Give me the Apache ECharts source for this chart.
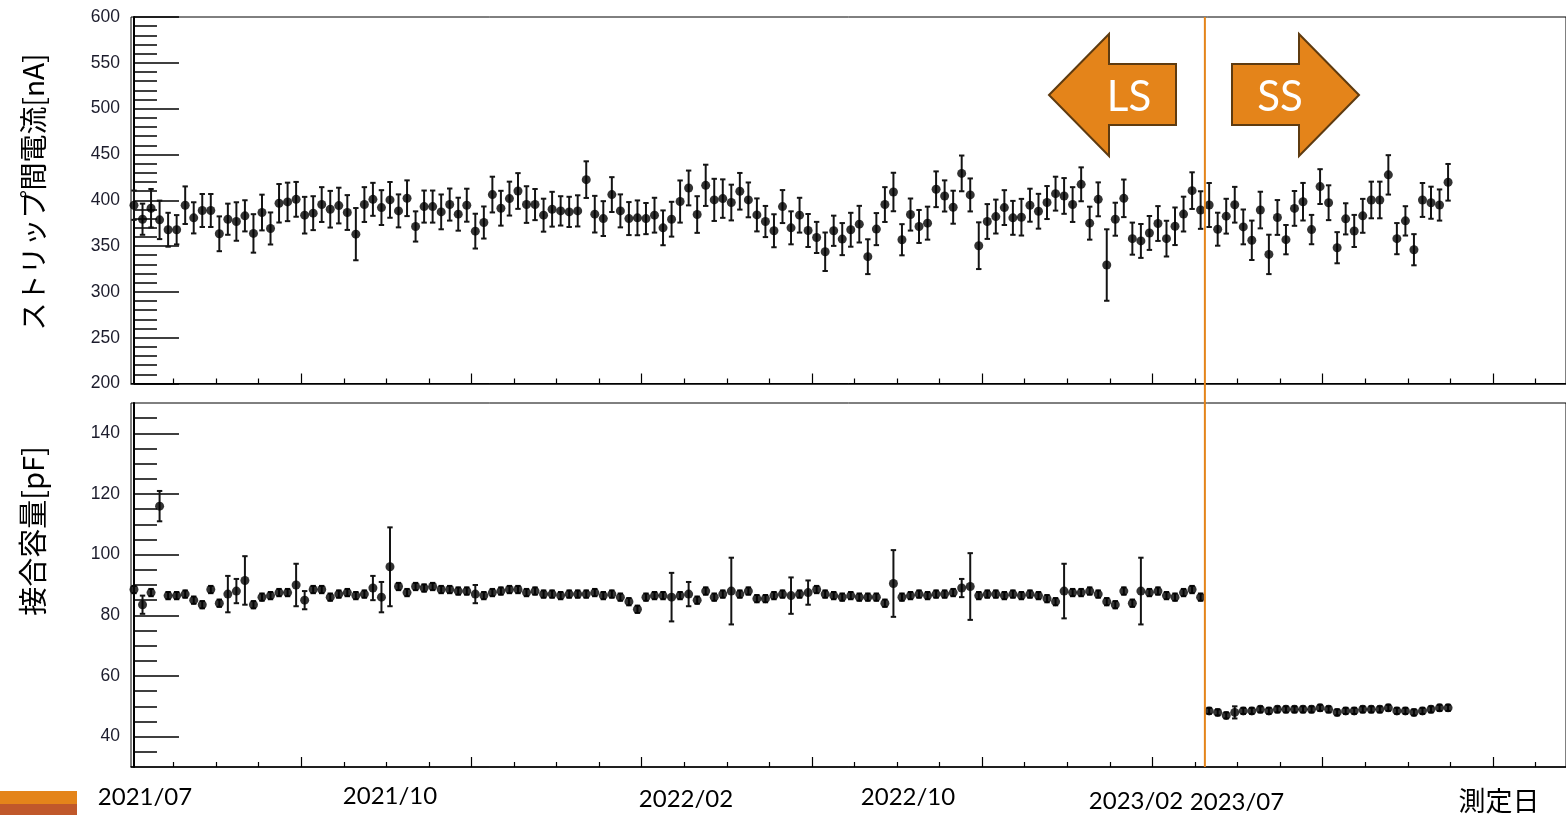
<!DOCTYPE html>
<html>
<head>
<meta charset="utf-8">
<script src="https://cdn.jsdelivr.net/npm/echarts@6/dist/echarts.min.js"></script>
<style>
html, body { margin: 0; padding: 0; background: #fff; overflow: hidden; }
#chart { width: 1566px; height: 815px; }
</style>
</head>
<body>
<div id="chart"></div>
<script>
// Inter-strip current per measurement [nA]
const currentValues = [
  394.6, 379.3, 391.3, 378.6, 367.8, 367.8, 394.6, 380.8, 388.8, 388.8,
  363.4, 379.3, 376.8, 383.0, 363.8, 386.6, 369.2, 396.7, 398.2, 401.0,
  383.7, 385.9, 395.3, 390.2, 394.2, 386.6, 363.0, 395.3, 401.0, 392.0,
  400.4, 388.4, 402.2, 371.4, 393.1, 393.1, 387.3, 395.3, 384.8, 394.6,
  366.3, 375.7, 406.2, 391.3, 401.8, 410.1, 395.3, 395.3, 383.7, 390.2,
  388.4, 387.3, 388.4, 422.5, 384.8, 380.0, 406.2, 388.4, 380.0, 380.8,
  380.0, 383.7, 369.9, 379.3, 398.6, 413.4, 384.4, 416.3, 400.4, 401.8,
  397.5, 409.8, 400.4, 384.0, 376.8, 366.7, 393.1, 369.9, 383.7, 367.0,
  359.4, 343.8, 366.7, 357.6, 367.8, 373.9, 338.4, 368.5, 395.3, 409.0,
  356.9, 384.4, 371.4, 375.0, 412.0, 404.7, 392.4, 429.3, 405.8, 350.4,
  376.8, 382.2, 392.0, 380.8, 381.5, 394.6, 388.0, 397.5, 407.2, 404.7,
  395.3, 417.4, 375.0, 401.0, 329.3, 379.3, 402.1, 358.1, 355.6, 364.3,
  374.6, 358.1, 371.6, 384.9, 410.5, 389.3, 394.8, 368.4, 382.6, 395.1,
  370.9, 356.3, 389.3, 340.9, 381.2, 357.0, 391.1, 398.4, 368.0, 414.9,
  397.3, 348.2, 379.7, 366.5, 383.0, 400.3, 400.3, 427.7, 358.1, 377.5,
  346.0, 400.3, 397.3, 394.8, 419.6
];
const currentErrors = [
  16, 17, 21, 21, 18.5, 16, 20.5, 17, 18, 18,
  19, 17, 21, 17, 21, 19.5, 17.5, 21, 21, 19,
  20, 18.5, 19, 20, 19.5, 19, 28.5, 19, 18, 19,
  19.5, 18, 19.5, 16.5, 17.5, 17.5, 19, 17.5, 18, 18,
  19, 17.5, 19.5, 19, 18.5, 19.5, 20, 17, 18, 19,
  16, 16.5, 17, 20, 20, 19, 19, 18, 18, 19,
  17, 19, 19, 19, 23, 19, 20, 22.5, 23, 21,
  19.5, 20, 19, 18, 17, 18, 18, 18, 19, 18,
  17, 21, 16.5, 17.5, 18.5, 20, 19, 17.5, 19, 21,
  17, 17.5, 18, 18, 19.5, 17, 18, 19.5, 18, 25.5,
  19, 18.5, 19, 18.5, 20, 18, 19, 18, 18.5, 19.5,
  19, 18.5, 18, 18.5, 39, 18, 20.5, 17.5, 18.5, 18.5,
  19, 19.5, 20.5, 19, 20, 20.5, 24, 18, 19, 19.5,
  19, 21.5, 20, 21.5, 19, 16, 19, 20.5, 16, 19,
  19, 17, 17, 17.5, 18.5, 20, 20, 21.5, 17, 16,
  17, 18.5, 17.5, 17, 20
];

// Junction capacitance per measurement [pF]
const capValues = [
  88.5, 83.5, 87.5, 116.0, 86.5, 86.5, 87.0, 85.0, 83.5, 88.5,
  84.0, 87.0, 88.0, 91.5, 83.5, 86.0, 86.5, 87.5, 87.5, 90.0,
  85.0, 88.5, 88.5, 86.0, 87.0, 87.5, 86.5, 87.0, 89.0, 86.0,
  96.0, 89.5, 87.5, 89.5, 89.0, 89.5, 88.5, 88.5, 88.0, 88.0,
  87.0, 86.5, 87.5, 88.0, 88.5, 88.5, 87.5, 88.0, 87.0, 87.0,
  86.5, 87.0, 87.0, 87.0, 87.5, 86.5, 87.0, 86.0, 84.5, 82.0,
  86.0, 86.5, 86.5, 86.0, 86.5, 87.0, 85.0, 88.0, 86.0, 87.0,
  88.0, 87.0, 88.0, 85.5, 85.5, 86.5, 87.0, 86.5, 87.0, 87.5,
  88.5, 87.0, 86.5, 86.0, 86.5, 86.0, 86.0, 86.0, 84.0, 90.5,
  86.0, 86.5, 87.0, 86.5, 87.0, 87.0, 87.5, 89.0, 89.5, 86.5,
  87.0, 87.0, 86.5, 87.0, 86.5, 87.0, 86.5, 85.5, 84.5, 88.0,
  87.5, 87.5, 88.0, 87.0, 84.5, 83.5, 88.0, 84.0, 88.0, 87.5,
  88.0, 86.5, 86.0, 87.5, 88.5, 86.0,
  48.5, 48.0, 47.0, 48.0, 48.5, 48.5, 49.0, 48.5, 49.0, 49.0,
  49.0, 49.0, 49.0, 49.5, 49.0, 48.0, 48.5, 48.5, 49.0, 49.0,
  49.0, 49.5, 48.5, 48.5, 48.0, 48.5, 49.0, 49.5, 49.5
];
const capErrors = [
  1.2, 3, 1.2, 5, 1.2, 1.2, 1.2, 1.2, 1.2, 1.2,
  1.2, 6, 4, 8, 1.2, 1.2, 1.2, 1.2, 1.2, 7,
  3, 1.2, 1.2, 1.2, 1.2, 1.2, 1.2, 1.2, 4, 5,
  13, 1.2, 1.2, 1.2, 1.2, 1.2, 1.2, 1.2, 1.2, 1.2,
  3, 1.2, 1.2, 1.2, 1.2, 1.2, 1.2, 1.2, 1.2, 1.2,
  1.2, 1.2, 1.2, 1.2, 1.2, 1.2, 1.2, 1.2, 1.2, 1.2,
  1.2, 1.2, 1.2, 8, 1.2, 4, 1.2, 1.2, 1.2, 1.2,
  11, 1.2, 1.2, 1.2, 1.2, 1.2, 1.2, 6, 1.2, 4,
  1.2, 1.2, 1.2, 1.2, 1.2, 1.2, 1.2, 1.2, 1.2, 11,
  1.2, 1.2, 1.2, 1.2, 1.2, 1.2, 1.2, 3, 11, 1.2,
  1.2, 1.2, 1.2, 1.2, 1.2, 1.2, 1.2, 1.2, 1.2, 9,
  1.2, 1.2, 1.2, 1.2, 1.2, 1.2, 1.2, 1.2, 11, 1.2,
  1.2, 1.2, 1.2, 1.2, 1.2, 1.2,
  1, 1, 1, 2, 1, 1, 1, 1, 1, 1,
  1, 1, 1, 1, 1, 1, 1, 1, 1, 1,
  1, 1, 1, 1, 1, 1, 1, 1, 1
];

// LS sensors were measured first, SS sensors after this many entries
const lsCount = 126;

const dateLabels = ['2021/07', '2021/10', '2022/02', '2022/10', '2023/02', '2023/07'];
const xTitle = '測定日';
const currentTitle = 'ストリップ間電流[nA]';
const capTitle = '接合容量[pF]';
const sensorLabels = ['LS', 'SS'];

const currentAxis = { min: 200, max: 600, step: 50 };
const capAxis = { min: 30, max: 150, major: [40, 60, 80, 100, 120, 140], minorStep: 5 };

// ---------- layout ----------
const FRAME_L = 131;
const FRAME_R = 1568;          // frame runs off the right edge
const TOP_T = 17, TOP_B = 383.5;
const BOT_T = 403, BOT_B = 767;

// measurement index range spanned by the frame
const X_MIN = -0.35;
const X_MAX = 167.82;
const X_TICK = 4.9875;         // spacing of the date ticks, in measurement units
const xMinorTicks = [], xMajorTicks = [];
for (let k = 1; X_MIN + k * X_TICK < X_MAX; k++) {
  (k % 4 === 0 ? xMajorTicks : xMinorTicks).push(X_MIN + k * X_TICK);
}

const capMinor = [];
for (let v = capAxis.min + capAxis.minorStep; v < capAxis.max; v += capAxis.minorStep) {
  if (capAxis.major.indexOf(v) < 0) capMinor.push(v);
}

const INK = '#000';
const ORANGE = '#E4841A';

function errorBar(params, api) {
  const x = api.value(0), v = api.value(1), e = api.value(2);
  const hi = api.coord([x, v + e]);
  const lo = api.coord([x, v - e]);
  const cap = 2.7;
  const style = { stroke: '#141414', lineWidth: 2 };
  return {
    type: 'group',
    children: [
      { type: 'line', shape: { x1: hi[0], y1: hi[1], x2: lo[0], y2: lo[1] }, style },
      { type: 'line', shape: { x1: hi[0] - cap, y1: hi[1], x2: hi[0] + cap, y2: hi[1] }, style },
      { type: 'line', shape: { x1: lo[0] - cap, y1: lo[1], x2: lo[0] + cap, y2: lo[1] }, style }
    ]
  };
}

const currentData = currentValues.map((v, i) => [i, v, currentErrors[i]]);
const capData = capValues.map((v, i) => [i, v, capErrors[i]]);

// data axis carrying the short ticks, plus an overlaid axis for the long ones
function xAxesFor(grid) {
  return [
    {
      type: 'value', gridIndex: grid, min: X_MIN, max: X_MAX, position: 'bottom',
      axisLine: { show: true, onZero: false, lineStyle: { color: '#000', width: 1.5 } },
      axisTick: { show: true, inside: true, length: 5, customValues: xMinorTicks, lineStyle: { color: '#000', width: 1.2 } },
      axisLabel: { show: false },
      splitLine: { show: false }
    },
    {
      type: 'value', gridIndex: grid, min: X_MIN, max: X_MAX, position: 'bottom',
      axisLine: { show: false, onZero: false },
      axisTick: { show: true, inside: true, length: 10, customValues: xMajorTicks, lineStyle: { color: '#000', width: 1.2 } },
      axisLabel: { show: false },
      splitLine: { show: false }
    }
  ];
}

const labelStyle = { color: '#1c1c2c', fontFamily: 'Liberation Sans', fontSize: 17.5, margin: 11 };

const chart = echarts.init(document.getElementById('chart'), null, { renderer: 'canvas' });

const option = {
  animation: false,
  backgroundColor: '#fff',
  grid: [
    { left: FRAME_L, top: TOP_T, width: FRAME_R - FRAME_L, height: TOP_B - TOP_T,
      show: true, borderColor: '#000', borderWidth: 1, containLabel: false },
    { left: FRAME_L, top: BOT_T, width: FRAME_R - FRAME_L, height: BOT_B - BOT_T,
      show: true, borderColor: '#000', borderWidth: 1, containLabel: false }
  ],
  xAxis: [...xAxesFor(0), ...xAxesFor(1)],
  yAxis: [
    {
      type: 'value', gridIndex: 0, position: 'left',
      min: currentAxis.min, max: currentAxis.max, interval: currentAxis.step,
      axisLine: { show: true, lineStyle: { color: '#000', width: 2 } },
      axisTick: { show: true, inside: true, length: 45, lineStyle: { color: '#000', width: 1.5 } },
      minorTick: { show: true, splitNumber: 5, length: 23, lineStyle: { color: '#000', width: 1.5 } },
      axisLabel: labelStyle,
      splitLine: { show: false }, minorSplitLine: { show: false }
    },
    {
      type: 'value', gridIndex: 1, position: 'left',
      min: capAxis.min, max: capAxis.max,
      axisLine: { show: true, lineStyle: { color: '#000', width: 2 } },
      axisTick: { show: true, inside: true, length: 45, customValues: capAxis.major, lineStyle: { color: '#000', width: 1.5 } },
      axisLabel: Object.assign({ customValues: capAxis.major }, labelStyle),
      splitLine: { show: false }
    },
    {
      type: 'value', gridIndex: 1, position: 'left',
      min: capAxis.min, max: capAxis.max,
      axisLine: { show: false },
      axisTick: { show: true, inside: true, length: 23, customValues: capMinor, lineStyle: { color: '#000', width: 1.5 } },
      axisLabel: { show: false },
      splitLine: { show: false }
    }
  ],
  series: [
    { type: 'custom', xAxisIndex: 0, yAxisIndex: 0, renderItem: errorBar, data: currentData,
      encode: { x: 0, y: 1 }, z: 2, silent: true },
    { type: 'scatter', xAxisIndex: 0, yAxisIndex: 0, data: currentData.map(d => [d[0], d[1]]),
      symbol: 'circle', symbolSize: 9, itemStyle: { color: INK }, z: 3, silent: true },
    { type: 'custom', xAxisIndex: 2, yAxisIndex: 1, renderItem: errorBar, data: capData,
      encode: { x: 0, y: 1 }, z: 2, silent: true },
    { type: 'scatter', xAxisIndex: 2, yAxisIndex: 1, data: capData.map(d => [d[0], d[1]]),
      symbol: 'circle', symbolSize: 9, itemStyle: { color: INK }, z: 3, silent: true }
  ]
};
chart.setOption(option);

// divider between LS and SS measurements, spanning both panels
const divX = chart.convertToPixel({ xAxisIndex: 0 }, lsCount - 0.5);

function arrow(pts, text, cx) {
  return [
    { type: 'polygon', shape: { points: pts },
      style: { fill: ORANGE, stroke: '#5E3B10', lineWidth: 2 }, z: 20 },
    { type: 'text', x: cx, y: 97, z: 21,
      style: { text: text, fill: '#fff', font: '42px Lato', align: 'center', verticalAlign: 'middle' } }
  ];
}

const dateText = [
  { t: dateLabels[0], x: 145, y: 797 },
  { t: dateLabels[1], x: 390, y: 796 },
  { t: dateLabels[2], x: 686, y: 799 },
  { t: dateLabels[3], x: 908, y: 797 },
  { t: dateLabels[4], x: 1136, y: 801 },
  { t: dateLabels[5], x: 1237, y: 802 }
].map(d => ({
  type: 'text', x: d.x, y: d.y, z: 30,
  style: { text: d.t, fill: '#000', font: '24px Lato', align: 'center', verticalAlign: 'middle' }
}));

chart.setOption({
  graphic: [
    { type: 'line', shape: { x1: divX, y1: TOP_T, x2: divX, y2: BOT_B },
      style: { stroke: ORANGE, lineWidth: 2 }, z: 10 },
    ...arrow([[1049, 95], [1109, 34], [1109, 64], [1176, 64], [1176, 125], [1109, 125], [1109, 156]], sensorLabels[0], 1129),
    ...arrow([[1359, 95], [1299, 34], [1299, 64], [1232, 64], [1232, 125], [1299, 125], [1299, 156]], sensorLabels[1], 1280),
    { type: 'text', x: 33, y: 192, rotation: Math.PI / 2, z: 30,
      style: { text: currentTitle, fill: '#000', font: '28px "Noto Sans CJK JP"', align: 'center', verticalAlign: 'middle' } },
    { type: 'text', x: 33, y: 531, rotation: Math.PI / 2, z: 30,
      style: { text: capTitle, fill: '#000', font: '29px "Noto Sans CJK JP"', align: 'center', verticalAlign: 'middle' } },
    { type: 'text', x: 1499, y: 801, z: 30,
      style: { text: xTitle, fill: '#000', font: '27px "Noto Sans CJK JP"', align: 'center', verticalAlign: 'middle' } },
    { type: 'rect', shape: { x: 0, y: 791, width: 77, height: 13 }, style: { fill: ORANGE }, z: 30 },
    { type: 'rect', shape: { x: 0, y: 804, width: 77, height: 11 }, style: { fill: '#C0582B' }, z: 30 },
    ...dateText
  ]
});
</script>
</body>
</html>
